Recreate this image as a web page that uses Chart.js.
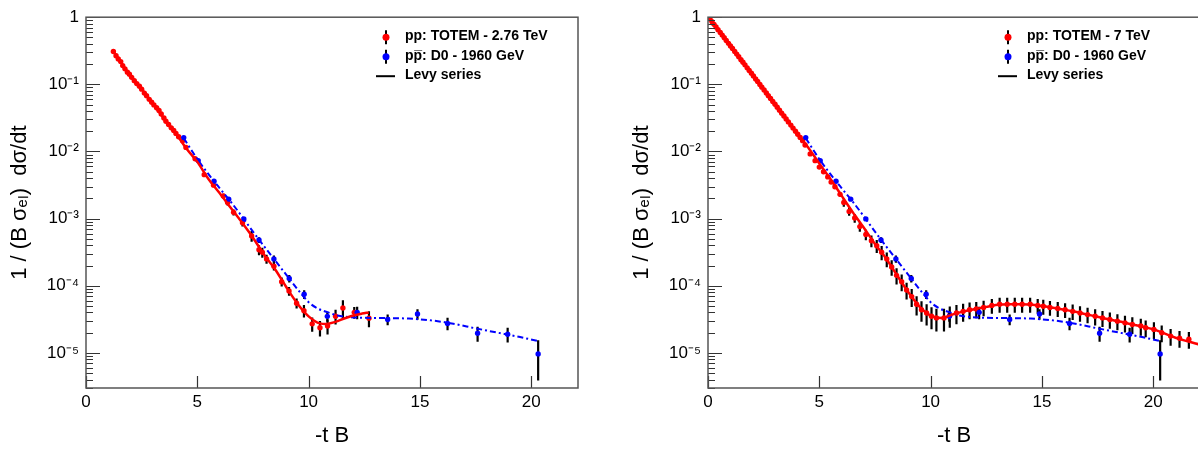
<!DOCTYPE html>
<html>
<head>
<meta charset="utf-8">
<script src="https://cdn.jsdelivr.net/npm/chart.js@4/dist/chart.umd.min.js"></script>
<style>
  html, body { margin: 0; padding: 0; background: #fff; overflow: hidden; width: 1198px; height: 451px; position: relative; }
  canvas { position: absolute; top: 0; }
  #left { left: 0; }
  #right { left: 622px; }
</style>
</head>
<body>
<canvas id="left" width="598" height="451"></canvas>
<canvas id="right" width="598" height="451"></canvas>
<script>
// Elastic scattering: 1/(B sigma_el) dsigma/dt vs -tB, two panels (ROOT-style)

// ---- axes ----
const xTicks = [0, 5, 10, 15, 20];
const yTickValues = [1, 1e-1, 1e-2, 1e-3, 1e-4, 1e-5];
const yTickLabels = ['1', '10⁻¹', '10⁻²', '10⁻³', '10⁻⁴', '10⁻⁵'];
const xTitle = '-t B';
const yTitle = '1 / (B σₑₗ)  dσ/dt';

// ---- D0 1960 GeV (same in both panels) ----
const d0Label = 'pp\u0305: D0 - 1960 GeV';
const d0X = [4.39, 5.04, 5.75, 6.41, 7.09, 7.77, 8.44, 9.13, 9.80, 10.84, 12.18, 13.55, 14.89, 16.24, 17.59, 18.94, 20.31];
const d0Y = [0.0161, 0.00731, 0.00361, 0.00195, 9.9e-4, 4.8e-4, 2.51e-4, 1.28e-4, 7.46e-5, 3.5e-5, 4.02e-5, 3.15e-5, 3.8e-5, 2.75e-5, 1.96e-5, 1.9e-5, 9.66e-6];
const d0Err = [0.02, 0.03, 0.03, 0.04, 0.06, 0.1, 0.12, 0.13, 0.15, 0.17, 0.21, 0.18, 0.18, 0.21, 0.25, 0.25, 0.6];
const d0FitX = [4.39, 5.0, 5.5, 6.0, 6.5, 7.0, 7.5, 8.0, 8.5, 9.0, 9.5, 10.0, 10.4, 10.84, 11.3, 11.9, 12.5, 13.5, 14.5, 15.5, 16.5, 17.5, 18.5, 19.5, 20.3];
const d0FitY = [0.0158, 0.0077, 0.0046, 0.00285, 0.00179, 0.00108, 6.4e-4, 3.87e-4, 2.37e-4, 1.45e-4, 8.9e-5, 5.7e-5, 4.6e-5, 4.05e-5, 3.6e-5, 3.4e-5, 3.33e-5, 3.3e-5, 3.24e-5, 3.05e-5, 2.72e-5, 2.32e-5, 2.0e-5, 1.72e-5, 1.5e-5];

// ---- TOTEM 2.76 TeV (left) ----
const t276Label = 'pp: TOTEM - 2.76 TeV';
const t276X = [1.23, 1.35, 1.45, 1.56, 1.65, 1.75, 1.86, 1.95, 2.05, 2.17, 2.28, 2.40, 2.50, 2.62, 2.72, 2.84, 2.95, 3.05, 3.17, 3.28,
  3.38, 3.50, 3.59, 3.71, 3.83, 3.94, 4.04, 4.16, 4.34, 4.49,
  4.90, 5.31, 5.73, 6.17, 6.36, 6.63, 7.03, 7.44, 7.77, 7.92, 8.11, 8.44, 8.79, 9.12, 9.46, 9.79, 10.16, 10.51, 10.85, 11.21, 11.54, 12.05, 12.71];
const t276Y = [0.308, 0.267, 0.238, 0.218, 0.190, 0.170, 0.152, 0.141, 0.127, 0.1135, 0.1026, 0.0938, 0.0848, 0.0741, 0.0677, 0.0598, 0.0541, 0.0494, 0.0447, 0.0408,
  0.0361, 0.0315, 0.0282, 0.0252, 0.0225, 0.0206, 0.0186, 0.0166, 0.0144, 0.0115,
  7.8e-3, 4.52e-3, 3.15e-3, 2.17e-3, 1.74e-3, 1.24e-3, 8.65e-4, 5.52e-4, 3.44e-4, 3.15e-4, 2.51e-4, 1.96e-4, 1.15e-4, 8.36e-5, 5.5e-5, 4.26e-5, 2.71e-5, 2.37e-5, 2.51e-5, 3.52e-5, 4.66e-5, 4.02e-5, 3.29e-5];
const t276Err = [0, 0, 0, 0, 0, 0, 0, 0, 0, 0, 0, 0, 0, 0, 0, 0, 0, 0, 0, 0,
  0, 0, 0, 0, 0, 0, 0, 0, 0, 0,
  0.03, 0.03, 0.03, 0.08, 0.1, 0.1, 0.12, 0.18, 0.17, 0.17, 0.15, 0.14, 0.15, 0.15, 0.17, 0.21, 0.24, 0.26, 0.25, 0.25, 0.3, 0.2, 0.27];
const levy276X = [1.23, 2.0, 2.5, 3.0, 3.5, 4.0, 4.5, 5.0, 5.5, 6.0, 6.5, 7.0, 7.5, 8.0, 8.5, 9.0, 9.5, 10.0, 10.5, 10.8, 11.2, 11.6, 12.0, 12.4, 12.7];
const levy276Y = [0.31, 0.134, 0.085, 0.052, 0.031, 0.0194, 0.0112, 7.0e-3, 3.9e-3, 2.4e-3, 1.45e-3, 8.8e-4, 5.2e-4, 2.9e-4, 1.75e-4, 9.5e-5, 5.4e-5, 3.5e-5, 2.75e-5, 2.7e-5, 2.9e-5, 3.25e-5, 3.6e-5, 3.85e-5, 4.0e-5];

// ---- TOTEM 7 TeV (right) ----
const t7Label = 'pp: TOTEM - 7 TeV';
const t7X = [0.09, 0.18, 0.27, 0.36, 0.45, 0.55, 0.64, 0.73, 0.82, 0.92, 1.01, 1.10, 1.20, 1.29, 1.38, 1.48, 1.57, 1.66, 1.76, 1.85,
  1.95, 2.04, 2.14, 2.23, 2.33, 2.42, 2.52, 2.62, 2.71, 2.81, 2.91, 3.01, 3.11, 3.21, 3.31, 3.41, 3.51, 3.61, 3.72, 3.82,
  3.93, 4.03, 4.14, 4.25, 4.36,
  4.59, 4.81, 5.00, 5.19, 5.38, 5.53, 5.70, 5.93, 6.10, 6.34, 6.59, 6.82, 7.09, 7.34, 7.58, 7.80, 8.03, 8.25, 8.47, 8.70,
  8.92, 9.15, 9.37, 9.59, 9.82, 10.04, 10.26, 10.60, 10.86, 11.16, 11.46, 11.75, 12.05, 12.38, 12.75, 13.10, 13.44, 13.78, 14.11, 14.47,
  14.81, 15.06, 15.36, 15.71, 16.04, 16.38, 16.71, 17.05, 17.39, 17.72, 18.05, 18.39, 18.73, 19.06, 19.44, 19.66, 20.03, 20.38, 20.78, 21.18, 21.60];
const t7Y = [0.938, 0.857, 0.783, 0.716, 0.653, 0.592, 0.541, 0.494, 0.451, 0.408, 0.373, 0.341, 0.308, 0.282, 0.258, 0.233, 0.213, 0.195, 0.176, 0.161,
  0.146, 0.133, 0.120, 0.110, 0.0995, 0.0908, 0.0822, 0.0743, 0.0679, 0.0615, 0.0556, 0.0504, 0.0455, 0.0412, 0.0372, 0.0337, 0.0305, 0.0276, 0.0247, 0.0223,
  0.0200, 0.0181, 0.0162, 0.0145, 0.0125,
  9.2e-3, 7.3e-3, 5.85e-3, 5.0e-3, 4.18e-3, 3.5e-3, 2.98e-3, 2.3e-3, 1.74e-3, 1.28e-3, 1.02e-3, 7.6e-4, 5.8e-4, 4.67e-4, 3.94e-4, 3.15e-4, 2.51e-4, 1.90e-4, 1.43e-4, 1.15e-4,
  8.65e-5, 6.9e-5, 5.3e-5, 4.4e-5, 3.93e-5, 3.52e-5, 3.32e-5, 3.32e-5, 3.64e-5, 3.93e-5, 4.16e-5, 4.4e-5, 4.5e-5, 4.76e-5, 5.1e-5, 5.3e-5, 5.3e-5, 5.3e-5, 5.3e-5, 5.3e-5,
  5.1e-5, 4.94e-5, 4.76e-5, 4.58e-5, 4.4e-5, 4.16e-5, 3.93e-5, 3.72e-5, 3.52e-5, 3.32e-5, 3.14e-5, 2.97e-5, 2.8e-5, 2.65e-5, 2.51e-5, 2.37e-5, 2.24e-5, 2.0e-5, 1.78e-5, 1.65e-5, 1.6e-5];
const t7Err = [0, 0, 0, 0, 0, 0, 0, 0, 0, 0, 0, 0, 0, 0, 0, 0, 0, 0, 0, 0,
  0, 0, 0, 0, 0, 0, 0, 0, 0, 0, 0, 0, 0, 0, 0, 0, 0, 0, 0, 0,
  0, 0, 0, 0, 0,
  0.04, 0.04, 0.05, 0.05, 0.05, 0.06, 0.06, 0.07, 0.14, 0.14, 0.15, 0.16, 0.18, 0.2, 0.22, 0.24, 0.25, 0.26, 0.27, 0.28,
  0.28, 0.3, 0.32, 0.34, 0.35, 0.36, 0.37, 0.37, 0.35, 0.32, 0.3, 0.28, 0.27, 0.26, 0.25, 0.25, 0.25, 0.25, 0.25, 0.25,
  0.25, 0.25, 0.25, 0.25, 0.25, 0.26, 0.26, 0.26, 0.27, 0.27, 0.27, 0.27, 0.28, 0.28, 0.28, 0.28, 0.28, 0.28, 0.28, 0.28, 0.28];
const levy7X = [0.05, 1.0, 2.0, 3.0, 4.0, 4.5, 5.0, 5.5, 6.0, 6.5, 7.0, 7.5, 8.0, 8.5, 9.0, 9.5, 10.0, 10.5, 11.0, 11.5,
  12.0, 12.5, 13.0, 13.5, 14.0, 14.5, 15.0, 15.5, 16.0, 16.5, 17.0, 17.5, 18.0, 18.5, 19.0, 19.5, 20.0, 20.5, 21.0, 21.5, 22.1];
const levy7Y = [0.97, 0.375, 0.138, 0.051, 0.0187, 0.0115, 6.6e-3, 3.9e-3, 2.2e-3, 1.25e-3, 7.3e-4, 4.2e-4, 2.55e-4, 1.42e-4, 8.0e-5, 4.9e-5, 3.6e-5, 3.3e-5, 3.75e-5, 4.15e-5,
  4.5e-5, 4.85e-5, 5.2e-5, 5.3e-5, 5.3e-5, 5.25e-5, 5.0e-5, 4.7e-5, 4.4e-5, 4.1e-5, 3.75e-5, 3.45e-5, 3.16e-5, 2.93e-5, 2.68e-5, 2.47e-5, 2.25e-5, 1.95e-5, 1.68e-5, 1.5e-5, 1.33e-5];

const levyLabel = 'Levy series';

const FONT = '"Liberation Sans", Arial, Helvetica, sans-serif';
Chart.defaults.font.family = FONT;
Chart.defaults.color = '#000';

const zip = (xs, ys) => xs.map((x, i) => ({ x: x, y: ys[i] }));
const isDecade = v => Math.abs(Math.log10(v) - Math.round(Math.log10(v))) < 1e-9;

// black vertical error bars under the markers
const errorBars = {
  id: 'errorBars',
  beforeDatasetDraw(chart, args) {
    const ds = chart.data.datasets[args.index];
    if (!ds.relErr) return;
    const { ctx, chartArea: a, scales: { x, y } } = chart;
    ctx.save();
    ctx.beginPath();
    ctx.rect(a.left, a.top, a.right - a.left, a.bottom - a.top);
    ctx.clip();
    ctx.strokeStyle = '#000';
    ctx.lineWidth = 2.2;
    ctx.beginPath();
    ds.data.forEach((p, i) => {
      const e = ds.relErr[i] * p.y;
      if (!e) return;
      const px = x.getPixelForValue(p.x);
      ctx.moveTo(px, y.getPixelForValue(p.y + e));
      ctx.lineTo(px, y.getPixelForValue(Math.max(p.y - e, y.min)));
    });
    ctx.stroke();
    ctx.restore();
  }
};

// ROOT-like frame with inward ticks
const rootFrame = {
  id: 'rootFrame',
  afterDatasetsDraw(chart) {
    const { ctx, chartArea: a, scales: { x, y } } = chart;
    ctx.save();
    ctx.strokeStyle = '#333';
    ctx.lineWidth = 1.2;
    ctx.beginPath();
    y.ticks.forEach(t => {
      const py = Math.round(y.getPixelForValue(t.value)) + 0.5;
      ctx.moveTo(a.left, py);
      ctx.lineTo(a.left + (isDecade(t.value) ? 14 : 7), py);
    });
    x.ticks.forEach(t => {
      const px = Math.round(x.getPixelForValue(t.value)) + 0.5;
      ctx.moveTo(px, a.bottom);
      ctx.lineTo(px, a.bottom - 12);
    });
    ctx.stroke();
    ctx.strokeStyle = '#555';
    ctx.lineWidth = 1.5;
    ctx.strokeRect(a.left, a.top, a.right - a.left, a.bottom - a.top);
    ctx.restore();
  }
};

// legend drawn inside the frame, markers with error bar, fit as a black line
const rootLegend = {
  id: 'rootLegend',
  afterDraw(chart, args, opts) {
    const { ctx, chartArea: a } = chart;
    const cx = a.left + opts.left;
    ctx.save();
    ctx.font = 'bold 14px ' + FONT;
    ctx.textBaseline = 'middle';
    opts.items.forEach((it, i) => {
      const cy = a.top + opts.top + i * opts.rowGap;
      let text = it.text;
      if (it.kind === 'marker') {
        const ds = chart.data.datasets[it.dataset];
        text = ds.label;
        ctx.strokeStyle = '#000';
        ctx.lineWidth = 2;
        ctx.beginPath();
        ctx.moveTo(cx, cy - 7);
        ctx.lineTo(cx, cy + 7);
        ctx.stroke();
        ctx.fillStyle = ds.backgroundColor;
        ctx.beginPath();
        ctx.arc(cx, cy, 3.5, 0, 2 * Math.PI);
        ctx.fill();
      } else {
        ctx.strokeStyle = '#000';
        ctx.lineWidth = 2;
        ctx.beginPath();
        ctx.moveTo(cx - 10, cy);
        ctx.lineTo(cx + 9, cy);
        ctx.stroke();
      }
      ctx.fillStyle = '#000';
      ctx.fillText(text, cx + 19, cy - 1);
    });
    ctx.restore();
  }
};

function makeChart(id, redLabel, redX, redY, redErr, levyX, levyY) {
  const datasets = [
    {
      label: redLabel, data: zip(redX, redY), relErr: redErr,
      backgroundColor: '#ff0000', borderColor: '#ff0000',
      pointRadius: 2.7, pointBorderWidth: 0, showLine: false, order: 2
    },
    {
      label: d0Label, data: zip(d0X, d0Y), relErr: d0Err,
      backgroundColor: '#0000ff', borderColor: '#0000ff',
      pointRadius: 2.7, pointBorderWidth: 0, showLine: false, order: 1
    },
    {
      label: levyLabel, data: zip(levyX, levyY), showLine: true,
      borderColor: '#ff0000', borderWidth: 2.5, pointRadius: 0,
      cubicInterpolationMode: 'monotone', order: 0
    },
    {
      label: levyLabel + ' (D0)', data: zip(d0FitX, d0FitY), showLine: true,
      borderColor: '#0000ff', borderWidth: 2, borderDash: [6, 3, 2, 3], pointRadius: 0,
      cubicInterpolationMode: 'monotone', order: 0
    }
  ];

  return new Chart(document.getElementById(id), {
    type: 'scatter',
    data: { datasets: datasets },
    options: {
      responsive: false,
      animation: false,
      devicePixelRatio: 1,
      layout: { padding: { top: 11, right: 20, left: 0, bottom: 0 } },
      plugins: {
        legend: { display: false },
        tooltip: { enabled: false },
        rootLegend: {
          left: 300, top: 20, rowGap: 19.5,
          items: [
            { kind: 'marker', dataset: 0 },
            { kind: 'marker', dataset: 1 },
            { kind: 'line', text: levyLabel }
          ]
        }
      },
      scales: {
        x: {
          type: 'linear', min: 0, max: 22.1,
          grid: { display: false, drawTicks: false },
          border: { display: false },
          afterBuildTicks: s => { s.ticks = xTicks.map(v => ({ value: v })); },
          afterFit: s => { s.height = 63; },
          ticks: { color: '#000', font: { size: 17 }, padding: 4, autoSkip: false, maxRotation: 0 },
          title: { display: true, text: xTitle, color: '#000', font: { size: 22 }, padding: { top: 0, bottom: 2 } }
        },
        y: {
          type: 'logarithmic', min: 3e-6, max: 1,
          grid: { display: false, drawTicks: false },
          border: { display: false },
          afterBuildTicks: s => {
            const t = [];
            for (let d = 0; d <= 6; d++) {
              for (let m = 1; m <= 9; m++) {
                const v = Number((m * Math.pow(10, -d)).toPrecision(3));
                if (v >= 3e-6 && v <= 1) t.push({ value: v });
              }
            }
            s.ticks = t;
          },
          afterFit: s => { s.width = 86; },
          ticks: {
            color: '#000', font: { size: 17 }, padding: 7, autoSkip: false,
            callback: v => {
              const k = yTickValues.findIndex(tv => Math.abs(Math.log10(tv) - Math.log10(v)) < 1e-6);
              return k >= 0 ? yTickLabels[k] : '';
            }
          },
          title: { display: true, text: yTitle, color: '#000', font: { size: 22 }, padding: { top: 7, bottom: 0 } }
        }
      }
    },
    plugins: [errorBars, rootFrame, rootLegend]
  });
}

makeChart('left', t276Label, t276X, t276Y, t276Err, levy276X, levy276Y);
makeChart('right', t7Label, t7X, t7Y, t7Err, levy7X, levy7Y);
</script>
</body>
</html>
